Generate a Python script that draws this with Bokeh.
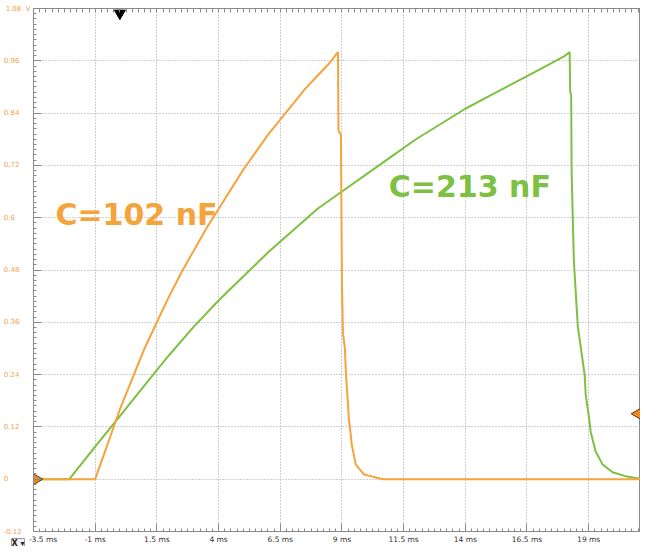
import math
from bokeh.plotting import figure
from bokeh.models import Range1d, FixedTicker, LinearAxis, Label, Title
from bokeh.embed import file_html
from bokeh.resources import INLINE

# ---- data (time in ms, voltage in V) ----
orange_t = [-3.5, -1.0, -0.5, 0.0, 0.5, 1.0, 1.5, 2.0, 2.5, 3.0, 3.5, 4.0, 4.5, 5.0,
            5.5, 6.0, 6.5, 7.0, 7.5, 8.0, 8.5, 8.84,
            8.86, 8.96, 9.00, 9.04, 9.12, 9.16, 9.28, 9.40, 9.56, 9.89, 10.49, 10.69, 21.5]
orange_v = [0.0, 0.0, 0.08, 0.16, 0.23, 0.30, 0.36, 0.42, 0.475, 0.525, 0.575, 0.62,
            0.665, 0.71, 0.75, 0.79, 0.825, 0.86, 0.895, 0.925, 0.955, 0.98,
            0.80, 0.79, 0.45, 0.336, 0.30, 0.245, 0.141, 0.079, 0.034, 0.011, 0.002, 0.0, 0.0]

green_t = [-3.5, -2.05, -1.0, 0.0, 1.0, 2.0, 3.0, 4.0, 5.0, 6.0, 7.0, 8.0, 9.0, 10.0,
           11.0, 12.0, 13.0, 14.0, 15.0, 16.0, 17.0, 18.0, 18.23,
           18.25, 18.29, 18.31, 18.40, 18.56, 18.84, 18.88, 19.00, 19.08, 19.28, 19.56,
           19.97, 20.49, 21.18, 21.5]
green_v = [0.0, 0.0, 0.075, 0.145, 0.215, 0.285, 0.35, 0.41, 0.465, 0.52, 0.57, 0.62,
           0.66, 0.70, 0.74, 0.78, 0.815, 0.85, 0.88, 0.91, 0.94, 0.97, 0.98,
           0.89, 0.88, 0.70, 0.50, 0.35, 0.238, 0.193, 0.147, 0.109, 0.064, 0.034,
           0.016, 0.007, 0.0, 0.0]

series_labels = ["C=102 nF", "C=213 nF"]

x_ticks = [-3.5, -1.0, 1.5, 4.0, 6.5, 9.0, 11.5, 14.0, 16.5, 19.0, 21.5]
x_tick_labels = ["-3.5 ms", "-1 ms", "1.5 ms", "4 ms", "6.5 ms", "9 ms",
                 "11.5 ms", "14 ms", "16.5 ms", "19 ms", "21.5 ms"]
y_ticks = [-0.12, 0.0, 0.12, 0.24, 0.36, 0.48, 0.6, 0.72, 0.84, 0.96, 1.08]
y_tick_labels = ["-0.12", "0", "0.12", "0.24", "0.36", "0.48", "0.6",
                 "0.72", "0.84", "0.96", "1.08"]
y_unit = "V"
channel_box = "X \u25BE"

trigger_time = [0.0]
trigger_level = [0.15]
channel_offset = [0.0]

ORANGE = "#F5A33B"
GREEN = "#7DC142"
AXIS = "#8a8a8a"
YLAB = "#F0A24A"

X_START, X_END = -3.5, 21.1
Y_START, Y_END = -0.12, 1.08

p = figure(width=640, height=546,
           x_range=Range1d(X_START, X_END), y_range=Range1d(Y_START, Y_END),
           output_backend="svg", toolbar_location=None,
           min_border_left=30, min_border_right=0, min_border_top=8, min_border_bottom=12,
           background_fill_color="white", border_fill_color="white",
           outline_line_color=AXIS)

x_minor = [round(X_START + 0.25 * i, 4) for i in range(101)]
y_minor = [round(Y_START + 0.012 * i, 4) for i in range(101)]

# grid
p.xgrid.ticker = FixedTicker(ticks=x_ticks)
p.ygrid.ticker = FixedTicker(ticks=y_ticks)
for g in (p.xgrid[0], p.ygrid[0]):
    g.grid_line_color = "#a0a0a0"
    g.grid_line_dash = "1 2"
    g.grid_line_width = 1


def style_axis(ax):
    ax.axis_line_color = AXIS
    ax.major_tick_line_color = AXIS
    ax.minor_tick_line_color = AXIS
    ax.major_tick_in = 8
    ax.major_tick_out = 0
    ax.minor_tick_in = 3
    ax.minor_tick_out = 0


NBSP = "\u00a0"

# first time label sits right of the channel box, as on the scope
x_label_text = [(NBSP * 8 + lab) if i == 0 else lab for i, lab in enumerate(x_tick_labels)]

xa = p.xaxis[0]
xa.ticker = FixedTicker(ticks=x_ticks, minor_ticks=x_minor)
xa.major_label_overrides = dict(zip(x_ticks, x_label_text))
xa.major_label_text_font = "DejaVu Sans"
xa.major_label_text_font_size = "7.5px"
xa.major_label_text_color = "#333333"
xa.major_label_standoff = 3
style_axis(xa)

# y labels: 7px DejaVu Sans; padded with no-break spaces so that the
# right-aligned labels start near the left edge like the scope's left-aligned ones
y_pad = {"-0.12": 4, "0": 10, "0.6": 7}
y_label_text = []
for lab in y_tick_labels:
    if lab == "1.08":
        y_label_text.append(lab + NBSP * 2 + y_unit)
    else:
        y_label_text.append(lab + NBSP * y_pad.get(lab, 5))

ya = p.yaxis[0]
ya.ticker = FixedTicker(ticks=y_ticks, minor_ticks=y_minor)
ya.major_label_overrides = dict(zip(y_ticks, y_label_text))
ya.major_label_text_font = "DejaVu Sans"
ya.major_label_text_font_size = "7px"
ya.major_label_text_color = YLAB
ya.major_label_standoff = 3
style_axis(ya)

# tick marks on the top frame edge (no labels)
top_ax = LinearAxis(ticker=FixedTicker(ticks=[], minor_ticks=x_minor),
                    major_label_standoff=0, axis_label_standoff=0)
style_axis(top_ax)
top_ax.minor_tick_in = 4
p.add_layout(top_ax, "above")

# traces
p.line(green_t, green_v, line_color=GREEN, line_width=2)
p.line(orange_t, orange_v, line_color=ORANGE, line_width=2)

# instrument markers
p.scatter(x=trigger_time, y=[Y_END - 0.011], marker="triangle", size=11,
          angle=math.pi, fill_color="black", line_color="black")
p.scatter(x=[X_START + 0.12], y=channel_offset, marker="triangle", size=11,
          angle=-math.pi / 2, fill_color="#F08A1E", line_color="#5a3a10", line_width=1)
p.scatter(x=[X_END - 0.12], y=trigger_level, marker="triangle", size=11,
          angle=math.pi / 2, fill_color="#F08A1E", line_color="#5a3a10", line_width=1)

# series labels
p.add_layout(Label(x=-2.61, y=0.608, text=series_labels[0], text_color=ORANGE,
                   text_font="DejaVu Sans", text_font_style="bold",
                   text_font_size="30px", text_baseline="alphabetic"))
p.add_layout(Label(x=10.9, y=0.671, text=series_labels[1], text_color=GREEN,
                   text_font="DejaVu Sans", text_font_style="bold",
                   text_font_size="30px", text_baseline="alphabetic"))

# small "X" channel selector box at the lower-left corner
p.add_layout(Title(text=channel_box, align="left", vertical_align="top",
                   offset=-22, standoff=-16,
                   text_font="DejaVu Sans", text_font_style="bold",
                   text_font_size="8px", text_color="#222222",
                   background_fill_color="#f0f0f0", border_line_color="#9a9a9a"),
             "below")

open("out.html", "w").write(file_html(p, INLINE))
